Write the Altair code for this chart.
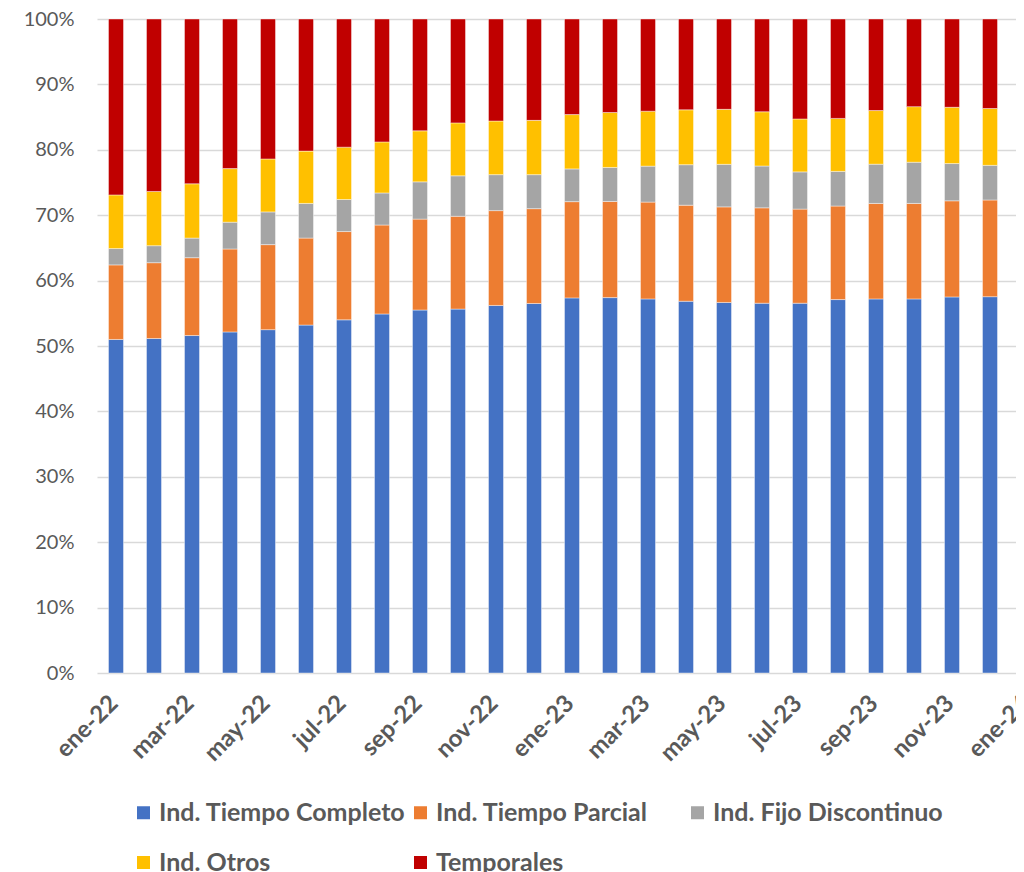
import altair as alt
import pandas as pd

meses = ["ene-22", "feb-22", "mar-22", "abr-22", "may-22", "jun-22", "jul-22", "ago-22",
         "sep-22", "oct-22", "nov-22", "dic-22", "ene-23", "feb-23", "mar-23", "abr-23",
         "may-23", "jun-23", "jul-23", "ago-23", "sep-23", "oct-23", "nov-23", "dic-23", "ene-24"]

series = ["Ind. Tiempo Completo", "Ind. Tiempo Parcial", "Ind. Fijo Discontinuo",
          "Ind. Otros", "Temporales"]
colores = ["#4472C4", "#ED7D31", "#A5A5A5", "#FFC000", "#C00000"]

tiempo_completo = [51.0, 51.2, 51.6, 52.2, 52.5, 53.2, 54.0, 54.9, 55.5, 55.7, 56.2, 56.5, 57.3,
                   57.4, 57.2, 56.9, 56.6, 56.6, 56.6, 57.1, 57.2, 57.2, 57.5, 57.6, 58.3]
tiempo_parcial = [11.4, 11.6, 11.9, 12.7, 13.0, 13.3, 13.5, 13.6, 13.9, 14.2, 14.5, 14.5, 14.7,
                  14.7, 14.8, 14.7, 14.6, 14.6, 14.4, 14.3, 14.6, 14.6, 14.7, 14.8, 15.0]
fijo_discontinuo = [2.5, 2.6, 3.0, 4.1, 5.0, 5.3, 4.9, 4.9, 5.7, 6.2, 5.5, 5.2, 5.0,
                    5.2, 5.5, 6.2, 6.5, 6.4, 5.7, 5.3, 6.0, 6.3, 5.7, 5.3, 4.9]
otros = [8.2, 8.3, 8.3, 8.2, 8.1, 8.0, 8.0, 7.8, 7.8, 8.1, 8.2, 8.3, 8.3,
         8.4, 8.4, 8.4, 8.4, 8.3, 8.1, 8.1, 8.2, 8.5, 8.6, 8.7, 8.8]
temporales = [26.9, 26.4, 25.2, 22.9, 21.4, 20.2, 19.6, 18.8, 17.1, 15.9, 15.6, 15.5, 14.6,
              14.3, 14.1, 13.9, 13.8, 14.2, 15.3, 15.2, 14.0, 13.4, 13.5, 13.7, 13.0]

valores = [tiempo_completo, tiempo_parcial, fijo_discontinuo, otros, temporales]

filas = []
for si, (nombre, vals) in enumerate(zip(series, valores)):
    for mi, mes in enumerate(meses):
        filas.append({"mes": mes, "serie": nombre, "valor": vals[mi], "orden": si})
df = pd.DataFrame(filas)

etiquetas_x = meses[::2]
gris = "#595959"
fuente = "Lato"

chart = alt.Chart(df).mark_bar(stroke="white", strokeWidth=0.6, strokeOpacity=0.7).encode(
    x=alt.X("mes:N", sort=meses, title=None,
            scale=alt.Scale(range=[0, 950], paddingInner=0.605, paddingOuter=0.3025),
            axis=alt.Axis(values=etiquetas_x, labelAngle=-45, labelAlign="right",
                          labelBaseline="top", labelPadding=18, labelOffset=-10,
                          ticks=False, tickSize=0, domain=False, grid=False,
                          labelFont=fuente, labelFontSize=24, labelFontWeight="bold",
                          labelColor=gris, labelOverlap=False)),
    y=alt.Y("valor:Q", stack="normalize", title=None,
            scale=alt.Scale(domain=[0, 1], nice=False),
            axis=alt.Axis(format=".0%", values=[i / 10 for i in range(11)],
                          ticks=False, tickSize=0, domain=False, labelPadding=23,
                          labelFont=fuente, labelFontSize=20, labelColor=gris,
                          gridColor="#D9D9D9", gridWidth=1.5)),
    color=alt.Color("serie:N", title=None,
                    scale=alt.Scale(domain=series, range=colores),
                    legend=alt.Legend(orient="none", legendX=34, legendY=781,
                                      direction="horizontal", columns=3, gridAlign="all",
                                      columnPadding=2, rowPadding=24, padding=0,
                                      symbolType="square", symbolSize=169,
                                      symbolStrokeWidth=0, labelOffset=3,
                                      labelFont=fuente, labelFontSize=25,
                                      labelFontWeight="bold", labelColor=gris,
                                      labelLimit=500)),
    order=alt.Order("orden:Q", sort="ascending"),
).properties(
    width=919, height=654,
    autosize=alt.AutoSizeParams(type="none"),
    padding={"left": 89, "top": 11, "right": 0, "bottom": 199},
).configure_view(stroke=None)

chart.save("out.html", embed_options={"renderer": "svg", "actions": False})
